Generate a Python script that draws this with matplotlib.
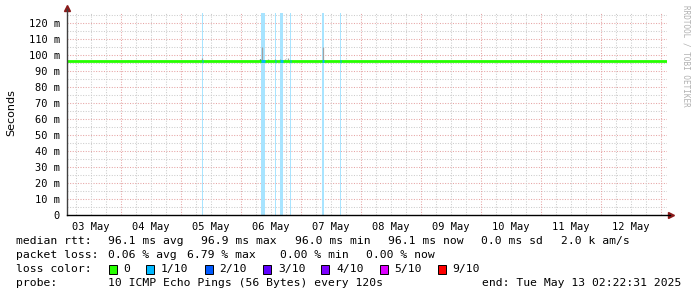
import matplotlib.pyplot as plt
from matplotlib.patches import Rectangle

W, H = 697, 297

# time axis: hours since Sat May 03 02:22:31 2025, 10 days
span_h = 240
first_midnight_h = 21.625
day_labels = ["03 May", "04 May", "05 May", "06 May", "07 May",
              "08 May", "09 May", "10 May", "11 May", "12 May"]

y_ticks = [0, 10, 20, 30, 40, 50, 60, 70, 80, 90, 100, 110, 120]
y_labels = ["0", "10 m", "20 m", "30 m", "40 m", "50 m", "60 m",
            "70 m", "80 m", "90 m", "100 m", "110 m", "120 m"]

# median rtt (ms)
median_h = [0, 240]
median_ms = [96.1, 96.1]

# periods with 1/10 packet loss (hours)
loss_from_h = [53.9, 77.6, 83.1, 85.2, 89.1, 101.9, 109.1]
loss_to_h = [54.3, 79.3, 83.5, 86.5, 89.5, 102.8, 109.5]

# smoke (ping spread) spikes
smoke_h = [19.6, 24.4, 54.1, 78.0, 80.4, 83.3, 85.3, 87.2, 88.4, 102.4]
smoke_lo = [96.1, 96.1, 96.1, 96.1, 96.1, 96.1, 96.1, 96.1, 96.1, 96.1]
smoke_hi = [97.0, 97.0, 98.0, 105.0, 97.2, 97.5, 97.2, 97.3, 98.2, 105.0]

loss_names = ["0", "1/10", "2/10", "3/10", "4/10", "5/10", "9/10"]
loss_colors = ["#26ff00", "#00b8ff", "#0059ff", "#5e00ff", "#7e00ff", "#dd00ff", "#ff0000"]

mono = "DejaVu Sans Mono"

fig = plt.figure(figsize=(W / 100, H / 100), dpi=100)
ax = fig.add_axes([67 / W, (H - 215) / H, 600 / W, 202 / H])
ax.set_xlim(0, span_h)
ax.set_ylim(0, 126.25)

# grid
minor_col = "#cccccc"
major_col = "#e6a4a4"
for v in range(5, 126, 5):
    ax.axhline(v, color=major_col if v % 10 == 0 else minor_col,
               lw=0.75, ls=(0, (1, 1.5)), zorder=0)
h = first_midnight_h - 18
while h < span_h:
    k = round((h - first_midnight_h) / 6)
    ax.axvline(h, color=major_col if k % 4 == 0 else minor_col,
               lw=0.75, ls=(0, (1, 1.5)), zorder=0)
    h += 6

# loss bars
for a, b in zip(loss_from_h, loss_to_h):
    ax.axvspan(a, b, color="#a8e4ff", lw=0, zorder=1)

# smoke
ax.vlines(smoke_h, smoke_lo, smoke_hi, color="#a0a0a0", lw=0.9, zorder=2)
ax.vlines([77.3], [96.1], [97.6], color="#202020", lw=0.9, zorder=2)

# median
ax.plot(median_h, median_ms, color=loss_colors[0], lw=2.0, zorder=3)
for a, b in zip(loss_from_h, loss_to_h):
    ax.plot([a, b], [96.1, 96.1], color=loss_colors[1], lw=2.0, zorder=4,
            solid_capstyle="butt")

# axes
for s in ["top", "right", "left", "bottom"]:
    ax.spines[s].set_visible(False)
ax.plot([0, 0], [0, 1.02], transform=ax.transAxes, color="#404040", lw=1, clip_on=False, zorder=5)
ax.plot([0, 1.005], [0, 0], transform=ax.transAxes, color="black", lw=1, clip_on=False, zorder=5)
ax.plot([0], [1.025], marker="^", ms=5, color="#8b1a1a", transform=ax.transAxes, clip_on=False)
ax.plot([1.006], [0], marker=">", ms=5, color="#8b1a1a", transform=ax.transAxes, clip_on=False)

ax.set_yticks(y_ticks)
ax.set_yticklabels(y_labels, fontfamily=mono, fontsize=7.5)
noon = [first_midnight_h - 12 + 24 * i for i in range(len(day_labels))]
ax.set_xticks(noon)
ax.set_xticklabels(day_labels, fontfamily=mono, fontsize=7.5)
ax.tick_params(length=0, pad=5, colors="black")

fig.text(11 / W, 1 - 113 / H, "Seconds", rotation=90, fontsize=8,
         ha="center", va="center", color="black")
fig.text(686 / W, 1 - 5 / H, "RRDTOOL / TOBI OETIKER", rotation=270,
         fontsize=5.5, fontfamily=mono, color="#b0b0b0", ha="center", va="top")

# legend block
def t(x, y, s):
    fig.text(x / W, 1 - y / H, s, fontfamily=mono, fontsize=8.2,
             ha="left", va="center", color="black")

t(16, 241, "median rtt:")
for x, s in zip([108, 201, 295, 388, 481, 561],
                ["96.1 ms avg", "96.9 ms max", "96.0 ms min",
                 "96.1 ms now", "0.0 ms sd", "2.0 k am/s"]):
    t(x, 241, s)

t(16, 255, "packet loss:")
for x, s in zip([108, 187, 280, 366],
                ["0.06 % avg", "6.79 % max", "0.00 % min", "0.00 % now"]):
    t(x, 255, s)

t(16, 269, "loss color:")
for x, name, col in zip([108.5, 146, 204.5, 263, 321, 379.5, 437.5], loss_names, loss_colors):
    fig.add_artist(Rectangle((x / W, 1 - 273.5 / H), 8 / W, 9 / H,
                             transform=fig.transFigure, facecolor=col,
                             edgecolor="black", lw=0.7))
    t(x + 15, 269, name)

t(16, 283, "probe:")
t(108, 283, "10 ICMP Echo Pings (56 Bytes) every 120s")
fig.text(681 / W, 1 - 283 / H, "end: Tue May 13 02:22:31 2025", fontfamily=mono,
         fontsize=8.2, ha="right", va="center", color="black")

fig.savefig("out.png", dpi=100, facecolor="white")
